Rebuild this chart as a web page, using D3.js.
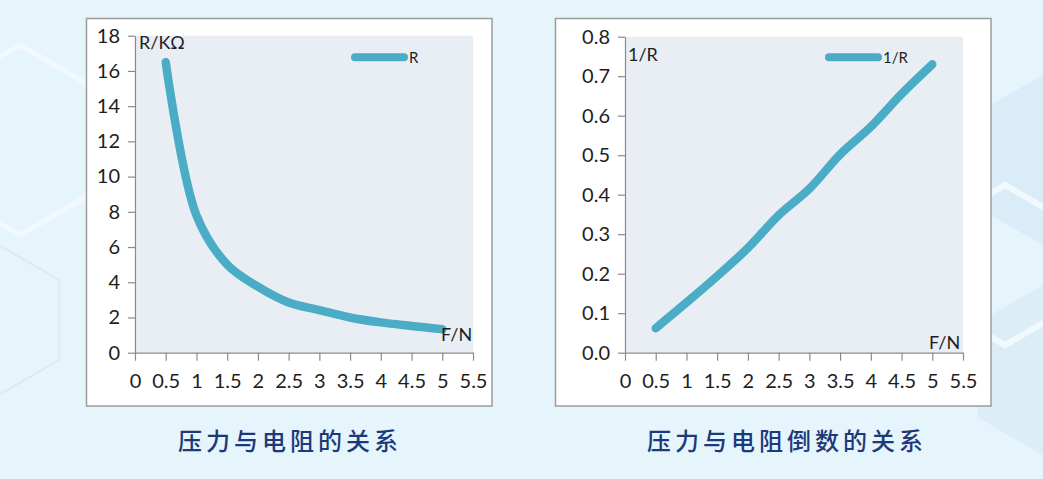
<!DOCTYPE html>
<html>
<head>
<meta charset="utf-8">
<script src="https://cdn.jsdelivr.net/npm/d3@7"></script>
<style>
  html, body { margin: 0; padding: 0; background: #e6f4fc; }
  svg { display: block; }
</style>
</head>
<body>
<svg id="chart" width="1043" height="479"></svg>
<script>
// ---- data ----
const forceN = [0.5, 1, 1.5, 2, 2.5, 3, 3.5, 4, 4.5, 5];
const resistanceK = [16.5, 7.8, 5.0, 3.75, 2.85, 2.42, 2.0, 1.72, 1.52, 1.33];
const reciprocalR = [0.062, 0.127, 0.194, 0.265, 0.348, 0.415, 0.502, 0.572, 0.655, 0.73];
const xTicks = [0, 0.5, 1, 1.5, 2, 2.5, 3, 3.5, 4, 4.5, 5, 5.5];
const leftYTicks = [0, 2, 4, 6, 8, 10, 12, 14, 16, 18];
const rightYTicks = [0, 0.1, 0.2, 0.3, 0.4, 0.5, 0.6, 0.7, 0.8];
const leftTitle = "压力与电阻的关系";
const rightTitle = "压力与电阻倒数的关系";
const leftYLabel = "R/KΩ";
const rightYLabel = "1/R";
const xLabel = "F/N";
const leftLegend = "R";
const rightLegend = "1/R";

const svg = d3.select("#chart");
const LINE = "#4bacc6";
const AXIS = "#8a8a8a";
const TEXT = "#1e1e1e";
const FONT = "Lato, 'Open Sans', sans-serif";

// ---- background decoration (faint hexagons) ----
const bg = svg.append("g");
bg.append("rect").attr("width", 1043).attr("height", 479).attr("fill", "#e6f4fc");
function hex(cx, cy, r) {
  const pts = d3.range(6).map(i => {
    const a = Math.PI / 180 * (60 * i + 30);
    return [cx + r * Math.cos(a), cy + r * Math.sin(a)];
  });
  return "M" + pts.map(p => p.join(",")).join("L") + "Z";
}
bg.append("path").attr("d", hex(1060, 160, 95)).attr("fill", "#d9ecf8");
bg.append("path").attr("d", hex(1060, 370, 95)).attr("fill", "#dcedf8");
bg.append("path").attr("d", hex(1005, 265, 80)).attr("fill", "none").attr("stroke", "#f2f9fe").attr("stroke-width", 6);
bg.append("path").attr("d", hex(20, 140, 95)).attr("fill", "none").attr("stroke", "#f1f9fe").attr("stroke-width", 5);
bg.append("path").attr("d", hex(-10, 320, 80)).attr("fill", "none").attr("stroke", "#d8ebf6").attr("stroke-width", 2);

// ---- chart drawer ----
function drawChart(opt) {
  const g = svg.append("g");
  // frame
  g.append("rect")
    .attr("x", opt.frame[0]).attr("y", opt.frame[1])
    .attr("width", opt.frame[2]).attr("height", opt.frame[3])
    .attr("fill", "#ffffff").attr("stroke", "#9c9c9c").attr("stroke-width", 1.5);

  const x = d3.scaleLinear().domain([0, 5.5]).range([opt.plot[0], opt.plot[2]]);
  const y = d3.scaleLinear().domain([0, opt.yMax]).range([opt.plot[3], opt.plot[1]]);

  // plot area
  g.append("rect")
    .attr("x", x(0)).attr("y", y(opt.yMax))
    .attr("width", x(5.5) - x(0)).attr("height", y(0) - y(opt.yMax))
    .attr("fill", "#e9eef5");

  // x axis
  const xa = g.append("g").attr("transform", `translate(0,${y(0)})`)
    .call(d3.axisBottom(x).tickValues(xTicks).tickSize(8).tickSizeOuter(0).tickPadding(13)
      .tickFormat(d3.format("")));
  // y axis
  const ya = g.append("g").attr("transform", `translate(${x(0)},0)`)
    .call(d3.axisLeft(y).tickValues(opt.yTicks).tickSize(7).tickSizeOuter(0).tickPadding(8)
      .tickFormat(opt.yFormat));
  [xa, ya].forEach(a => {
    a.select(".domain").attr("stroke", AXIS).attr("stroke-width", 1.2);
    a.selectAll(".tick line").attr("stroke", AXIS).attr("stroke-width", 1.2);
    a.selectAll(".tick text").attr("fill", TEXT)
      .style("font-family", FONT).style("font-size", "20px");
  });

  // line
  const data = forceN.map((f, i) => [f, opt.values[i]]);
  g.append("path").datum(data)
    .attr("fill", "none").attr("stroke", LINE).attr("stroke-width", 8.5)
    .attr("stroke-linecap", "round").attr("stroke-linejoin", "round")
    .attr("d", d3.line().x(d => x(d[0])).y(d => y(d[1])).curve(d3.curveCatmullRom.alpha(0.5)));

  // axis unit labels
  g.append("text").attr("x", opt.yLabelPos[0]).attr("y", opt.yLabelPos[1])
    .attr("fill", TEXT).style("font-family", FONT).style("font-size", "18px")
    .text(opt.yLabel);
  g.append("text").attr("x", opt.xLabelPos[0]).attr("y", opt.xLabelPos[1])
    .attr("fill", TEXT).style("font-family", FONT).style("font-size", "18px")
    .text(xLabel);

  // legend
  g.append("line")
    .attr("x1", opt.legend[0]).attr("x2", opt.legend[0] + 49)
    .attr("y1", opt.legend[1]).attr("y2", opt.legend[1])
    .attr("stroke", LINE).attr("stroke-width", 8).attr("stroke-linecap", "round");
  g.append("text").attr("x", opt.legend[0] + 54).attr("y", opt.legend[1] + 5.5)
    .attr("fill", TEXT).style("font-family", FONT).style("font-size", "15px")
    .text(opt.legendText);

  // title
  svg.append("text").attr("x", opt.titleX).attr("y", 450)
    .attr("text-anchor", "middle").attr("fill", "#1c3a7a")
    .style("font-family", "'Noto Sans CJK SC', sans-serif").style("font-size", "24px")
    .style("font-weight", 500).style("letter-spacing", "4px")
    .text(opt.title);
}

drawChart({
  frame: [86.5, 18.5, 405.5, 387.5],
  plot: [135, 35.7, 473, 352.7],
  yMax: 18, yTicks: leftYTicks, yFormat: d3.format("d"),
  values: resistanceK,
  yLabel: leftYLabel, yLabelPos: [139, 49],
  xLabelPos: [441, 341],
  legend: [355, 57.3], legendText: leftLegend,
  title: leftTitle, titleX: 290
});

drawChart({
  frame: [555.5, 18.5, 435.5, 387.5],
  plot: [625, 36.7, 963, 352.7],
  yMax: 0.8, yTicks: rightYTicks, yFormat: d3.format(".1f"),
  values: reciprocalR,
  yLabel: rightYLabel, yLabelPos: [628, 61],
  xLabelPos: [929, 349],
  legend: [829, 57.3], legendText: rightLegend,
  title: rightTitle, titleX: 787
});
</script>
</body>
</html>
